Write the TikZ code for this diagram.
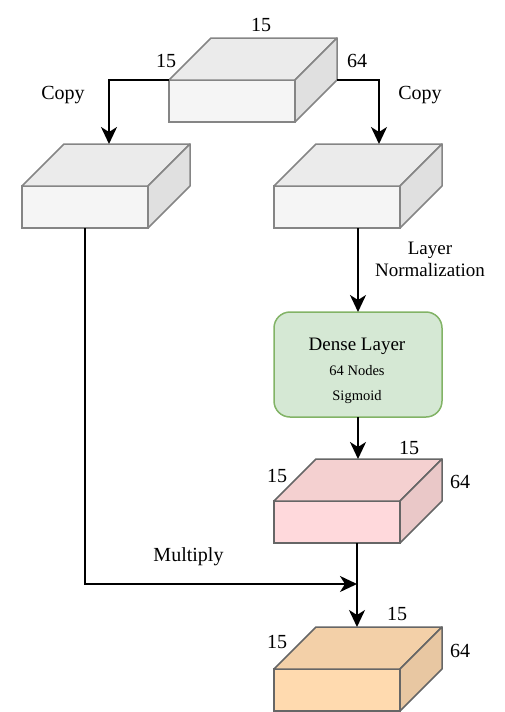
\documentclass[tikz,border=0pt]{standalone}
\usepackage{fontspec}
\setmainfont{Liberation Serif}
\usetikzlibrary{arrows.meta,calc}
\definecolor{gfront}{HTML}{F5F5F5}
\definecolor{gtop}{HTML}{EBEBEB}
\definecolor{gside}{HTML}{E0E0E0}
\definecolor{gline}{HTML}{858585}
\definecolor{pfront}{HTML}{FFD9DC}
\definecolor{ptop}{HTML}{F4D0D0}
\definecolor{pside}{HTML}{EAC8C8}
\definecolor{ofront}{HTML}{FFDAAF}
\definecolor{otop}{HTML}{F3D0A8}
\definecolor{oside}{HTML}{E8C7A2}
\definecolor{dline}{HTML}{666666}
\definecolor{dfill}{HTML}{D5E8D4}
\definecolor{dstroke}{HTML}{82B366}
\tikzset{
  cubeface/.style={rectangle, minimum width=126, minimum height=42, inner sep=0, outer sep=0, anchor=north west, line width=1.5pt},
  cubeedge/.style={line width=1.5pt, line join=round},
  arr/.style={line width=2pt, -{Stealth[length=17pt,width=16pt,inset=5pt]}},
  plainline/.style={line width=2pt},
  lbl/.style={inner sep=0, anchor=base, font=\fontsize{20}{24}\selectfont},
  midlbl/.style={inner sep=0, anchor=base, font=\fontsize{19}{23}\selectfont},
  smalllbl/.style={inner sep=0, anchor=base, font=\fontsize{14.5}{17}\selectfont},
  densebox/.style={rectangle, rounded corners=16pt, minimum width=168, minimum height=105, fill=dfill, draw=dstroke, line width=1.5pt, inner sep=0, outer sep=0}
}
\newcommand\blockcube[5]{%
  \node[cubeface, fill=#4front, draw=#5] (#1) at (#2,#3) {};
  \filldraw[fill=#4top, draw=#5, cubeedge] (#1.north west) -- ++(42,-42) -- ++(126,0) -- (#1.north east) -- cycle;
  \filldraw[fill=#4side, draw=#5, cubeedge] (#1.north east) -- ++(42,-42) -- ++(0,42) -- (#1.south east) -- cycle;
  \coordinate (#1-bk) at ([shift={(42,-42)}]#1.north west);
}
\begin{document}
\begin{tikzpicture}[x=1pt,y=-1pt]
\useasboundingbox (0,0) rectangle (504,712);
\blockcube{T}{169}{80}{g}{gline}
\blockcube{L}{22}{186}{g}{gline}
\blockcube{R}{274}{186}{g}{gline}
\node[densebox] (D) at (358,364.5) {};
\blockcube{P}{274}{501}{p}{dline}
\blockcube{O}{274}{669}{o}{dline}

% connectors
\draw[arr] (T.north west) -| ([xshift=45pt]L-bk);
\draw[arr] ([xshift=42pt]T.north east) -| ([xshift=63pt]R-bk);
\draw[arr] (R.south -| D.north) -- (D.north);
\draw[arr] (D.south) -- (D.south |- P-bk);
\draw[arr] ([xshift=-1pt]P.south -| D.south) -- ([xshift=-1pt]D.south |- O-bk);
\coordinate (mulpt) at (357,584);
\draw[arr] (L.south) |- (mulpt);

% labels
\node[lbl] at (261,31) {15};
\node[lbl] at (166,67.7) {15};
\node[lbl] at (357,67.7) {64};
\node[lbl] at (63,99) {Copy};
\node[lbl] at (420,99) {Copy};
\node[midlbl] at (430,254.3) {Layer};
\node[midlbl] at (430,276.7) {Normalization};
\node[midlbl] at (357,350) {Dense Layer};
\node[smalllbl] at (357,375) {64 Nodes};
\node[smalllbl] at (357,400.7) {Sigmoid};
\node[lbl] at (409,454) {15};
\node[lbl] at (277,482) {15};
\node[lbl] at (460,488) {64};
\node[lbl] at (188.5,561.5) {Multiply};
\node[lbl] at (397,620) {15};
\node[lbl] at (277,648) {15};
\node[lbl] at (460,657) {64};
\end{tikzpicture}
\end{document}
